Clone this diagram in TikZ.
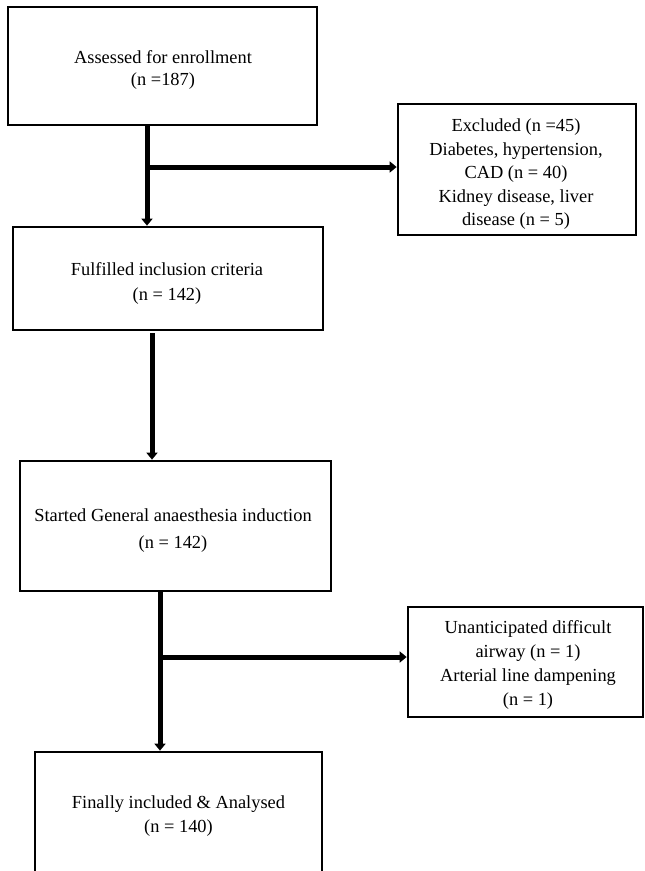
\documentclass[tikz,border=0pt]{standalone}
\usepackage{fontspec}
\setmainfont{Liberation Serif}
\usetikzlibrary{arrows.meta}
\tikzset{
  box/.style={draw=black, line width=2.7pt, rectangle, inner sep=0pt},
  txt/.style={align=center, inner sep=0pt},
  arr/.style={line width=5pt, -{Triangle[length=7pt,width=11pt]}}
}
\newcommand{\fs}[1]{\fontsize{18.4}{#1}\selectfont}
\begin{document}
\begin{tikzpicture}[x=1pt,y=-1pt]
\useasboundingbox (0,0) rectangle (645,871);
\clip (0,0) rectangle (645,871);
% boxes
\node[box, minimum width=309pt, minimum height=118pt] (b1) at (162.5,66) {};
\node[box, minimum width=310pt, minimum height=103pt] (b2) at (168,278.5) {};
\node[box, minimum width=311pt, minimum height=130pt] (b3) at (175.5,526) {};
\node[box, minimum width=287pt, minimum height=128pt] (b4) at (178.5,816) {};
\node[box, minimum width=238pt, minimum height=131pt] (ex) at (517,169.5) {};
\node[box, minimum width=235pt, minimum height=110pt] (un) at (525.5,662) {};
% texts
\node[txt, font=\fs{22}] (t1) at (163,69.5) {Assessed for enrollment\\(n =187)};
\node[txt, font=\fs{25}] (t2) at (167,283) {Fulfilled inclusion criteria\\(n = 142)};
\node[txt, font=\fs{27}] (t3) at (173,531) {Started General anaesthesia induction\\(n = 142)};
\node[txt, font=\fs{24}] (t4) at (178.5,816.5) {Finally included \& Analysed\\(n = 140)};
\node[txt, font=\fs{23.5}] (tex) at (516,174.5) {Excluded (n =45)\\Diabetes, hypertension,\\CAD (n = 40)\\Kidney disease, liver\\disease (n = 5)};
\node[txt, font=\fs{24}] (tun) at (528,664.5) {Unanticipated difficult\\airway (n = 1)\\Arterial line dampening\\(n = 1)};
% connectors
\coordinate (j1) at (147,167);
\coordinate (j2) at (152,333);
\coordinate (j3) at (160,657);
\draw[arr] (b1.south -| j1) -- (b2.north -| j1);
\draw[arr] (j1) -- (ex.west |- j1);
\draw[arr] (j2) -- (b3.north -| j2);
\draw[arr] (b3.south -| j3) -- (b4.north -| j3);
\draw[arr] (j3) -- (un.west |- j3);
\end{tikzpicture}
\end{document}
